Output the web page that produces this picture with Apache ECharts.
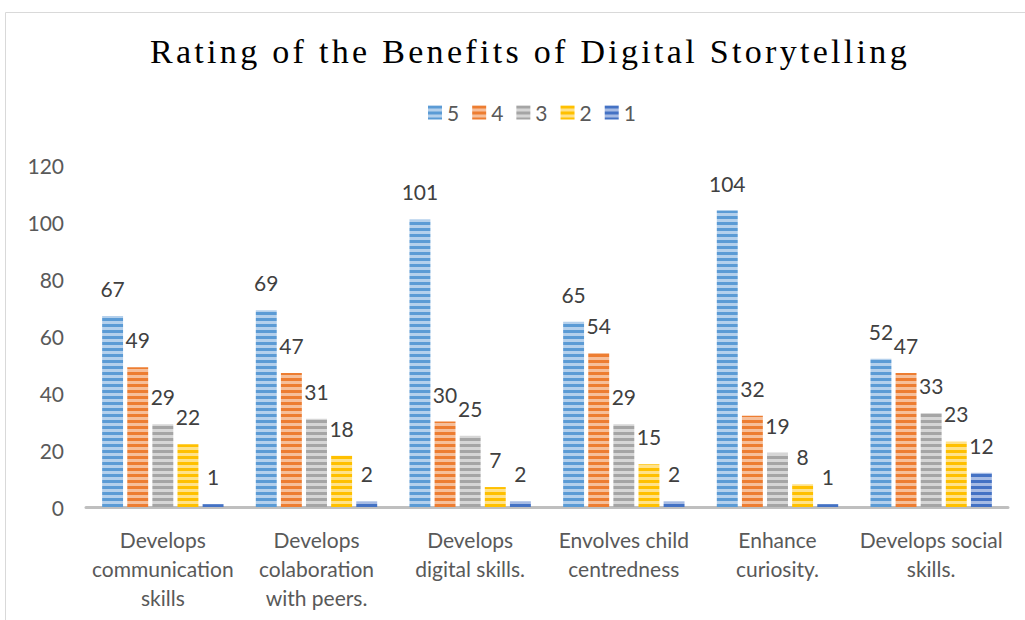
<!DOCTYPE html>
<html>
<head>
<meta charset="utf-8">
<script src="https://cdn.jsdelivr.net/npm/echarts@6/dist/echarts.min.js"></script>
<style>
html,body{margin:0;padding:0;background:#fff;}
#chart{width:1025px;height:620px;}
</style>
</head>
<body>
<div id="chart"></div>
<script>
const categories = ['Develops\ncommunication\nskills', 'Develops\ncolaboration\nwith peers.', 'Develops\ndigital skills.', 'Envolves child\ncentredness', 'Enhance\ncuriosity.', 'Develops social\nskills.'];
const seriesNames = ['5', '4', '3', '2', '1'];
const rating5 = [67, 69, 101, 65, 104, 52];
const rating4 = [49, 47, 30, 54, 32, 47];
const rating3 = [29, 31, 25, 29, 19, 33];
const rating2 = [22, 18, 7, 15, 8, 23];
const rating1 = [1, 2, 2, 2, 1, 12];
const yTicks = [0, 20, 40, 60, 80, 100, 120];
const titleText = 'Rating of the Benefits of Digital Storytelling';

const seriesValues = [rating5, rating4, rating3, rating2, rating1];
const darkColors = ['#5b9bd5', '#ed7d31', '#a5a5a5', '#ffc000', '#4472c4'];
const lightColors = ['#b4d0ec', '#f6bf9a', '#d6d6d6', '#ffe28a', '#a6bbe4'];

function stripe(dark, light) {
  const c = document.createElement('canvas');
  c.width = 4; c.height = 6;
  const ctx = c.getContext('2d');
  ctx.fillStyle = light; ctx.fillRect(0, 0, 4, 6);
  ctx.fillStyle = dark; ctx.fillRect(0, 0, 4, 3);
  return {image: c, repeat: 'repeat'};
}

const chart = echarts.init(document.getElementById('chart'), null, {renderer: 'svg'});
const font = 'Lato';
chart.setOption({
  animation: false,
  backgroundColor: '#fff',
  graphic: [{
    type: 'rect', shape: {x: 5.5, y: 12.5, width: 1040, height: 640},
    style: {fill: 'none', stroke: '#d9d9d9', lineWidth: 1}
  }],
  title: {
    text: titleText,
    left: 145, top: 29,
    textStyle: {fontFamily: 'Liberation Serif', fontSize: 34, fontWeight: 'normal', color: '#000'}
  },
  legend: {
    top: 97, left: 423,
    itemWidth: 14, itemHeight: 14, itemGap: 13,
    icon: 'rect',
    textStyle: {fontFamily: font, fontSize: 21, color: '#595959'},
    data: seriesNames
  },
  grid: {left: 86, right: 17, top: 165, bottom: 113},
  xAxis: {
    type: 'category', data: categories,
    axisLine: {lineStyle: {color: '#bfbfbf', width: 3}},
    axisTick: {show: false},
    axisLabel: {fontFamily: font, fontSize: 21, color: '#595959', lineHeight: 29, margin: 18, interval: 0}
  },
  yAxis: {
    type: 'value', min: 0, max: 120, interval: 20,
    axisLine: {show: false}, axisTick: {show: false},
    splitLine: {show: false},
    axisLabel: {fontFamily: font, fontSize: 21, color: '#595959', margin: 22, padding: [0, 0, 4, 0],
      formatter: v => yTicks.includes(v) ? String(v) : ''}
  },
  series: seriesValues.map((vals, i) => ({
    name: seriesNames[i], type: 'bar', data: vals,
    barGap: '20%', barCategoryGap: '21%',
    itemStyle: {color: stripe(darkColors[i], lightColors[i])},
    label: {show: true, position: 'top', distance: 17, fontFamily: font, fontSize: 21, color: '#404040'}
  }))
});
document.querySelectorAll('#chart text').forEach(t => {
  if (t.textContent === titleText) t.setAttribute('letter-spacing', '3.3px');
});
</script>
</body>
</html>
